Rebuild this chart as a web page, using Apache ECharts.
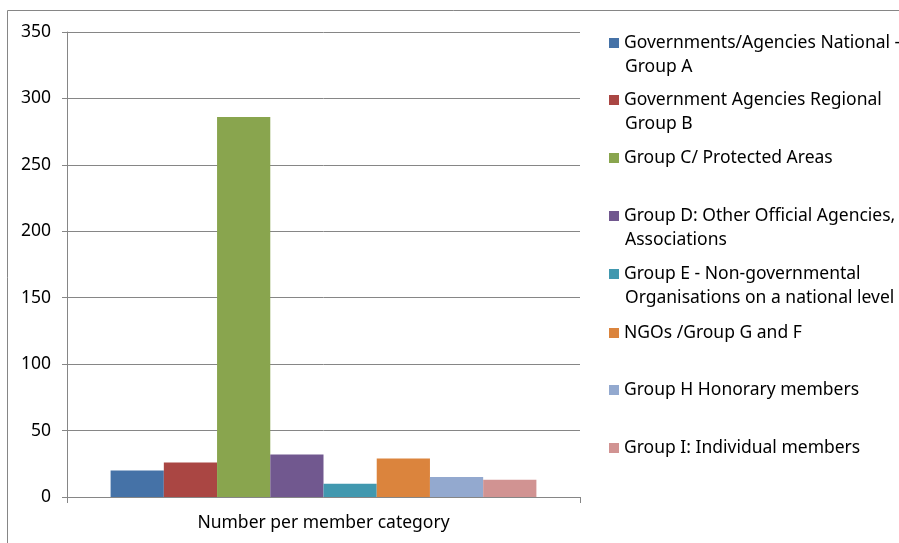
<!DOCTYPE html>
<html>
<head>
<meta charset="utf-8">
<script src="https://cdn.jsdelivr.net/npm/echarts@6/dist/echarts.min.js"></script>
<style>
  html, body { margin: 0; padding: 0; background: #fff; }
</style>
</head>
<body>
<div id="chart" style="width:899px;height:543px;"></div>
<script>
// data
var categories = ['Number per member category'];
var groupNames = [
    'Governments/Agencies National - Group A',
    'Government Agencies Regional Group B',
    'Group C/ Protected Areas',
    'Group D: Other Official Agencies, Associations',
    'Group E - Non-governmental Organisations on a national level',
    'NGOs /Group G and F',
    'Group H Honorary members',
    'Group I: Individual members'
];
// how the legend wraps the names (first line, second line)
var legendFirst = [
    'Governments/Agencies National -',
    'Government Agencies Regional',
    'Group C/ Protected Areas',
    'Group D: Other Official Agencies,',
    'Group E - Non-governmental',
    'NGOs /Group G and F',
    'Group H Honorary members',
    'Group I: Individual members'
];
var legendSecond = ['Group A', 'Group B', '', 'Associations', 'Organisations on a national level', '', '', ''];
var groupValues = [20, 26, 286, 32, 10, 29, 15, 13];
var yTicks = [0, 50, 100, 150, 200, 250, 300, 350];

var colors = ['#4572A7', '#AA4643', '#89A54E', '#71588F', '#4198AF', '#DB843D', '#93A9CF', '#D19392'];
var legendLineY = [43, 100, 158, 216, 274, 333, 390, 448];
var font = 'Noto Sans';
var fontSize = 17.5;

var chart = echarts.init(document.getElementById('chart'));

var series = [];
var legends = [];
var graphics = [{
    type: 'rect',
    shape: { x: 7.5, y: 10.5, width: 1000, height: 1000 },
    style: { fill: null, stroke: '#868686', lineWidth: 1 },
    silent: true
}];
for (var i = 0; i < groupNames.length; i++) {
    series.push({
        name: groupNames[i],
        type: 'bar',
        data: [groupValues[i]],
        barGap: 0,
        barCategoryGap: '17%',
        itemStyle: { color: colors[i] }
    });
    legends.push({
        data: [groupNames[i]],
        left: 609,
        top: legendLineY[i] - 12,
        padding: 0,
        itemWidth: 10,
        itemHeight: 10,
        itemGap: 6,
        icon: 'rect',
        selectedMode: false,
        formatter: (function (lbl) { return function () { return lbl; }; })(legendFirst[i]),
        textStyle: { fontFamily: font, fontSize: fontSize, color: '#000', lineHeight: 24 }
    });
    if (legendSecond[i]) {
        graphics.push({
            type: 'text',
            left: 625,
            top: legendLineY[i] + 24 - 12,
            style: { text: legendSecond[i], font: fontSize + 'px "' + font + '"', fill: '#000', lineHeight: 24 },
            silent: true
        });
    }
}

var option = {
    animation: false,
    color: colors,
    graphic: graphics,
    legend: legends,
    grid: { left: 67, right: 319, top: 32, bottom: 46 },
    xAxis: {
        type: 'category',
        data: categories,
        axisLine: { lineStyle: { color: '#868686' } },
        axisTick: { show: true, length: 6, lineStyle: { color: '#868686' } },
        axisLabel: { fontFamily: font, fontSize: fontSize, color: '#000', margin: 17 }
    },
    yAxis: {
        type: 'value',
        min: yTicks[0],
        max: yTicks[yTicks.length - 1],
        interval: yTicks[1] - yTicks[0],
        axisLine: { show: true, lineStyle: { color: '#868686' } },
        axisTick: { show: true, length: 5, lineStyle: { color: '#868686' } },
        splitLine: { lineStyle: { color: '#868686' } },
        axisLabel: { fontFamily: font, fontSize: fontSize, color: '#000', margin: 16 }
    },
    series: series
};

chart.setOption(option);
</script>
</body>
</html>
